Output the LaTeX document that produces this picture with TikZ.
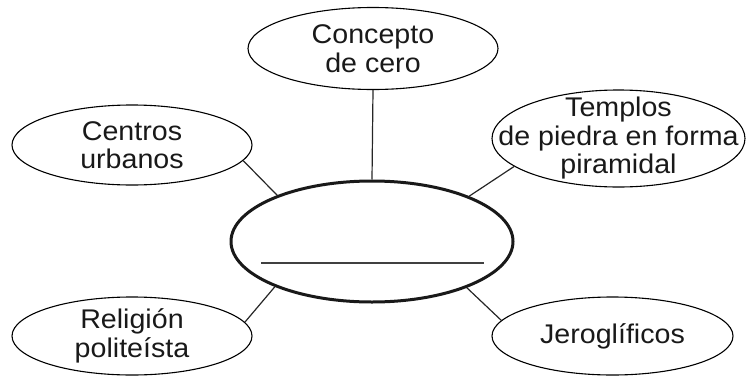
\documentclass[tikz,border=0pt]{standalone}
\usepackage{fontspec}
\setmainfont[FakeStretch=1.06]{Liberation Sans}
\usetikzlibrary{shapes.geometric}
\tikzset{
  bub/.style={draw=black, line width=1.1pt, ellipse, inner sep=0pt},
  txt/.style={align=center, inner sep=0pt, text=black!90,
    font=\fontsize{27}{28.5}\selectfont},
  conn/.style={draw=black!85, line width=1.2pt},
}
\begin{document}
\begin{tikzpicture}[x=1pt,y=-1pt]
\useasboundingbox (0,0) rectangle (747,375);
\node[bub, line width=3pt, draw=black!90, minimum width=282, minimum height=121] (c) at (372,241.5) {};
\node[bub, minimum width=250, minimum height=82, label={[txt]center:Concepto\\de cero}] (top) at (373,48.5) {};
\node[bub, minimum width=240, minimum height=80, label={[txt]center:Centros\\urbanos}] (ul) at (132,145) {};
\node[bub, minimum width=253, minimum height=97, label={[txt]center:Templos\\de piedra en forma\\piramidal}] (ur) at (618.5,138.5) {};
\node[bub, minimum width=240, minimum height=78, label={[txt]center:Religión\\politeísta}] (ll) at (132,336) {};
\node[bub, minimum width=241, minimum height=78, label={[txt]center:Jeroglíficos}] (lr) at (612.5,336) {};
\coordinate (la) at (261,263);
\coordinate (lb) at (484,263);
\draw[draw=black!75, line width=2pt] (la) -- (lb);
\draw[conn] (top.south) -- (c.north);
\draw[conn] (ul.-8.6) -- (c.154.9);
\draw[conn] (ur.195.1) -- (c.25.4);
\draw[conn] (ll.7.2) -- (c.205.6);
\draw[conn] (lr.172.4) -- (c.334.4);
\end{tikzpicture}
\end{document}
